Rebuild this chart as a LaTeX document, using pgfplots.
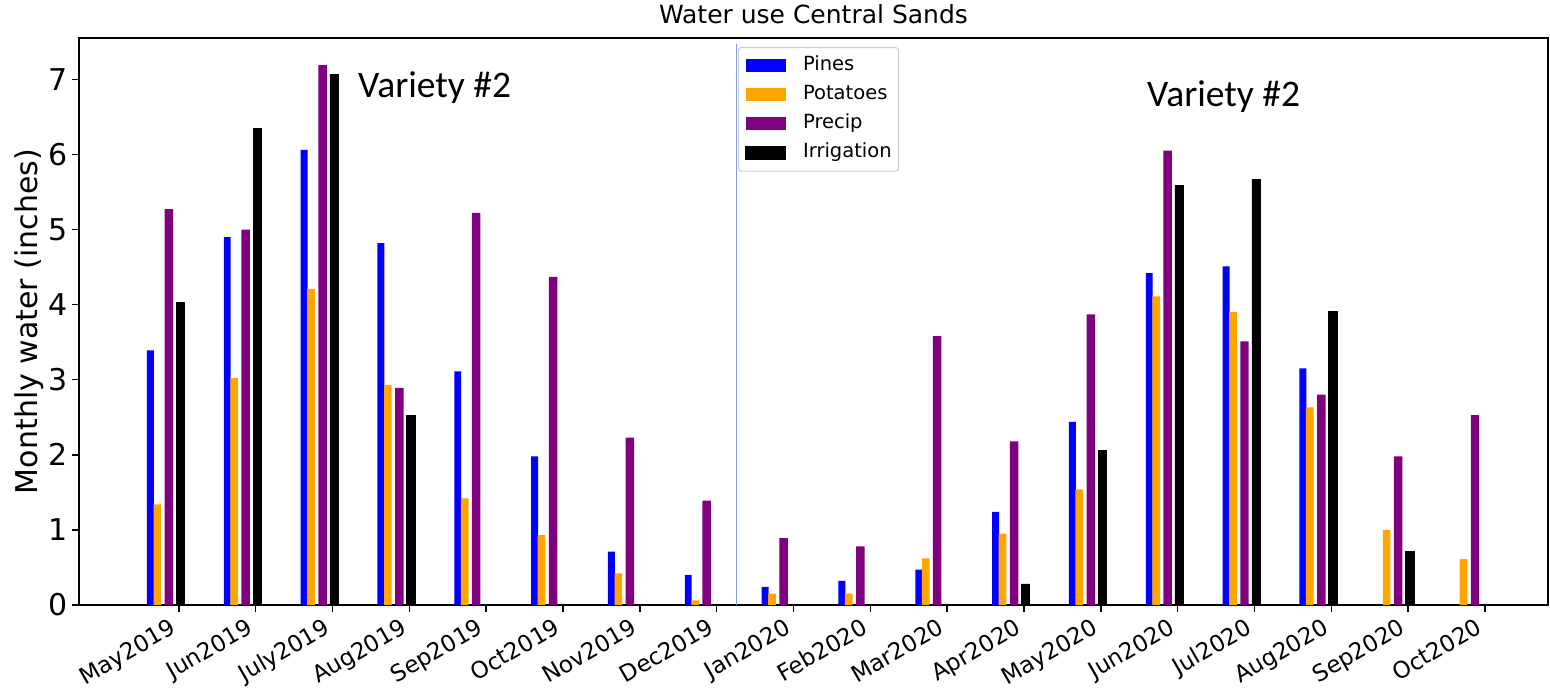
\documentclass[border=0pt]{standalone}
\usepackage{fontspec}
\setmainfont{DejaVu Sans}
\newfontfamily\carlito{Carlito}
\usepackage{pgfplots}
\pgfplotsset{compat=1.18}
\definecolor{vline}{RGB}{130,160,215}
\definecolor{legframe}{RGB}{204,204,204}
\definecolor{myorange}{RGB}{255,165,0}
\definecolor{mypurple}{RGB}{128,0,128}
\pgfplotsset{mylegend/.style={legend image code/.code={\fill[##1, sharp corners] (0pt,-6.5pt) rectangle (40pt,6.5pt);}}}
\begin{document}
\begin{tikzpicture}
\begin{axis}[
  name=ax, at={(0,0)}, anchor=south west,
  scale only axis, width=1469pt, height=567pt,
  xmin=-1.30, xmax=17.82, ymin=0, ymax=7.55,
  xtick={0,...,17},
  xticklabels={May2019,Jun2019,July2019,Aug2019,Sep2019,Oct2019,Nov2019,Dec2019,Jan2020,Feb2020,Mar2020,Apr2020,May2020,Jun2020,Jul2020,Aug2020,Sep2020,Oct2020},
  ytick={0,...,7},
  tick pos=left, tick align=outside, major tick length=7pt,
  every tick/.style={black, line width=1.5pt},
  axis line style={line width=1.5pt},
  /pgf/number format/assume math mode=true,
  xticklabel style={xshift=-10pt, yshift=-5pt, rotate=30, anchor=north east, inner sep=0pt, font=\fontsize{23}{27}\selectfont},
  yticklabel style={xshift=-4pt, inner sep=0pt, font=\fontsize{30}{36}\selectfont},
  ylabel={Monthly water (inches)},
  ylabel style={at={(axis description cs:-0.034,0.5)}, anchor=center, inner sep=0pt, font=\fontsize{30}{36}\selectfont},
  title={Water use Central Sands},
  title style={at={(axis description cs:0.5,1)}, anchor=base, yshift=8pt, inner sep=0pt, font=\fontsize{25}{29}\selectfont},
  legend cell align=left,
  legend style={at={(axis description cs:0.4486,0.984)}, anchor=north west,
    draw=legframe, line width=1pt, rounded corners=3pt, fill=white,
    font=\fontsize{19.5}{23}\selectfont, inner xsep=7pt, inner ysep=8.5pt, row sep=9.5pt,
    nodes={inner sep=0pt, text height=14.5pt, text depth=5pt},
    /tikz/every odd column/.append style={column sep=17pt}},
]
\addplot[draw=vline, line width=1.5pt, forget plot] coordinates {(7.26,0) (7.26,7.47)};

\addplot[ybar, mylegend, bar width=0.09, bar shift=-0.37, fill=blue, draw=none] coordinates {
(0,3.39) (1,4.90) (2,6.06) (3,4.82) (4,3.11) (5,1.98) (6,0.71) (7,0.40) (8,0.24)
(9,0.32) (10,0.47) (11,1.24) (12,2.44) (13,4.42) (14,4.51) (15,3.15)};
\addlegendentry{Pines}

\addplot[ybar, mylegend, bar width=0.10, bar shift=-0.28, fill=myorange, draw=none] coordinates {
(0,1.34) (1,3.02) (2,4.21) (3,2.93) (4,1.42) (5,0.93) (6,0.42) (7,0.06) (8,0.15)
(9,0.15) (10,0.62) (11,0.95) (12,1.54) (13,4.11) (14,3.90) (15,2.63) (16,1.00) (17,0.61)};
\addlegendentry{Potatoes}

\addplot[ybar, mylegend, bar width=0.11, bar shift=-0.13, fill=mypurple, draw=none] coordinates {
(0,5.27) (1,5.00) (2,7.19) (3,2.89) (4,5.22) (5,4.37) (6,2.23) (7,1.39) (8,0.89)
(9,0.78) (10,3.58) (11,2.18) (12,3.87) (13,6.05) (14,3.51) (15,2.80) (16,1.98) (17,2.53)};
\addlegendentry{Precip}

\addplot[ybar, mylegend, bar width=0.11, bar shift=0.02, fill=black, draw=black, line width=0.6pt] coordinates {
(0,4.03) (1,6.35) (2,7.07) (3,2.52) (4,0) (5,0) (6,0) (7,0) (8,0)
(9,0) (10,0) (11,0.28) (12,2.06) (13,5.59) (14,5.67) (15,3.91) (16,0.71) (17,0)};
\addlegendentry{Irrigation}

\node[anchor=base west, inner sep=0pt, font=\carlito\fontsize{37.5}{44}\selectfont] at (axis cs:2.33,6.76) {Variety \#2};
\node[anchor=base west, inner sep=0pt, font=\carlito\fontsize{37.5}{44}\selectfont] at (axis cs:12.60,6.64) {Variety \#2};
\end{axis}
\pgfresetboundingbox
\path (-79pt,-84pt) rectangle (1471pt,605pt);
\end{tikzpicture}
\end{document}
